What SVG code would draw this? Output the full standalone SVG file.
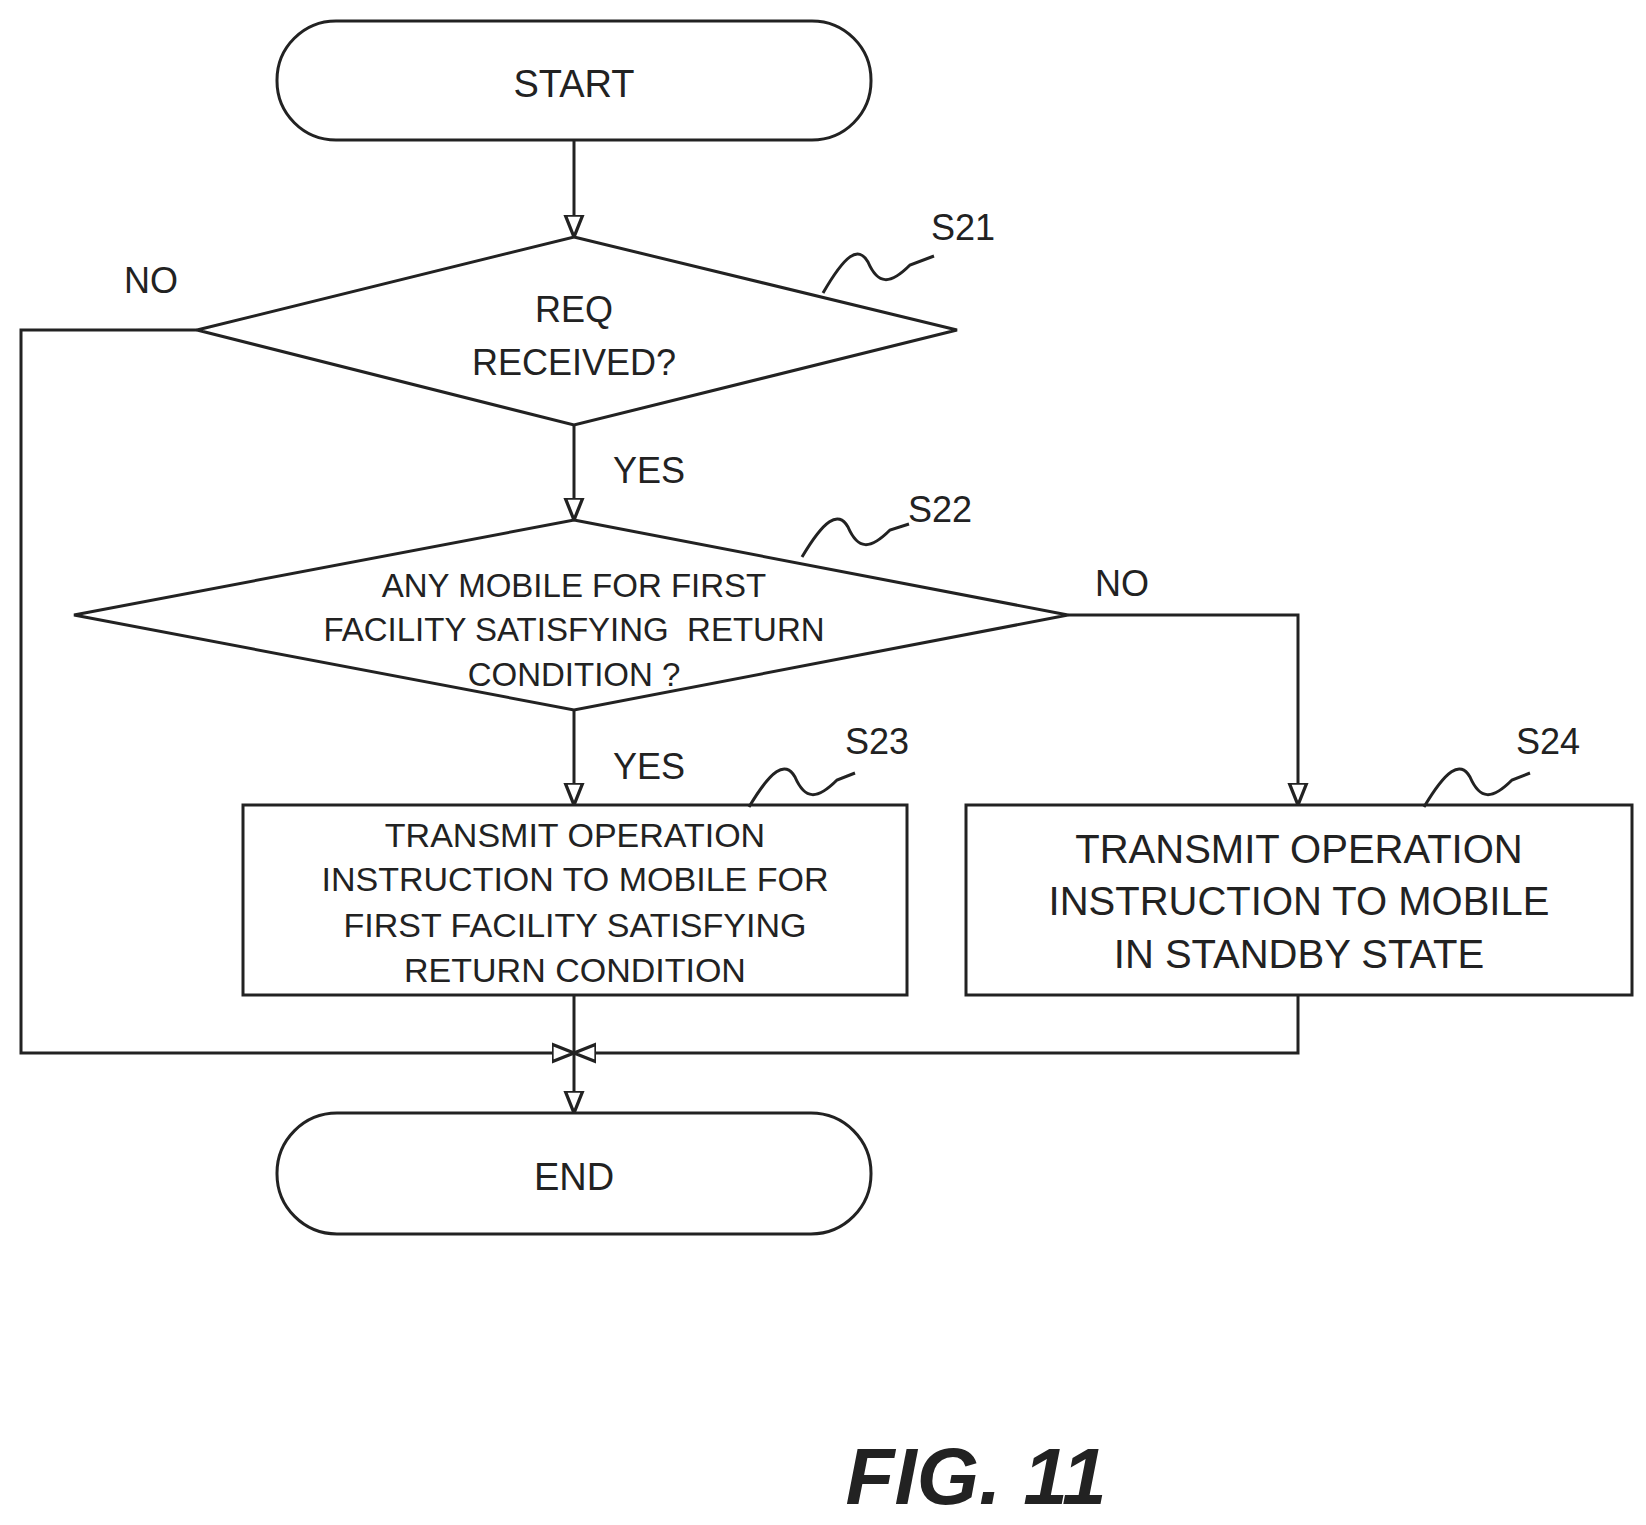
<svg xmlns="http://www.w3.org/2000/svg" width="1646" height="1525" viewBox="0 0 1646 1525">
<defs>
<marker id="ar" viewBox="0 0 10 10" refX="10" refY="5" markerWidth="22" markerHeight="22" markerUnits="userSpaceOnUse" orient="auto"><path d="M0,1 L10,5 L0,9 z" fill="#fff" stroke="#222" stroke-width="1.5"/></marker>
</defs>
<style>
.s{fill:#fff;stroke:#222;stroke-width:3}
.l{fill:none;stroke:#222;stroke-width:3}
.t{font-family:"Liberation Sans",Arial,sans-serif;fill:#222;text-anchor:middle}
</style>
<rect width="1646" height="1525" fill="#fff"/>
<g id="connectors">
<path class="l" d="M574,140 V237" marker-end="url(#ar)"/>
<path class="l" d="M574,425 V520" marker-end="url(#ar)"/>
<path class="l" d="M574,710 V805" marker-end="url(#ar)"/>
<path class="l" d="M1068,615 H1298 V805" marker-end="url(#ar)"/>
<path class="l" d="M197,330 H21 V1053 H574" marker-end="url(#ar)"/>
<path class="l" d="M1298,995 V1053 H574" marker-end="url(#ar)"/>
<path class="l" d="M574,995 V1113" marker-end="url(#ar)"/>
<text class="t" x="151" y="293" font-size="36">NO</text>
<text class="t" x="649" y="483" font-size="36">YES</text>
<text class="t" x="1122" y="596" font-size="36">NO</text>
<text class="t" x="649" y="779" font-size="36">YES</text>
</g>
<g id="start"><rect class="s" x="277" y="21" width="594" height="119" rx="59"/><text class="t" x="574" y="97" font-size="38">START</text></g>
<g id="s21"><polygon class="s" points="574,237 957,330 574,425 197,330"/>
<text class="t" x="574" y="322" font-size="36">REQ</text><text class="t" x="574" y="375" font-size="36">RECEIVED?</text>
<path class="l" d="M823,293 C845,255 858,245 868,262 C878,285 890,285 910,265 L934,256"/>
<text class="t" x="963" y="240" font-size="36">S21</text></g>
<g id="s22"><polygon class="s" points="574,520 1068,615 574,710 74,615"/>
<text class="t" x="574" y="597" font-size="33">ANY MOBILE FOR FIRST</text>
<text class="t" x="574" y="641" font-size="33" xml:space="preserve">FACILITY SATISFYING  RETURN</text>
<text class="t" x="574" y="686" font-size="33">CONDITION ?</text>
<path class="l" d="M802,557 C824,520 838,510 848,527 C858,550 870,550 890,530 L909,524"/>
<text class="t" x="940" y="522" font-size="36">S22</text></g>
<g id="s23"><rect class="s" x="243" y="805" width="664" height="190"/>
<text class="t" x="575" y="847" font-size="34">TRANSMIT OPERATION</text>
<text class="t" x="575" y="891" font-size="34">INSTRUCTION TO MOBILE FOR</text>
<text class="t" x="575" y="937" font-size="34">FIRST FACILITY SATISFYING</text>
<text class="t" x="575" y="982" font-size="34">RETURN CONDITION</text>
<path class="l" d="M749,807 C771,770 785,760 795,777 C805,800 817,800 837,780 L855,773"/>
<text class="t" x="877" y="754" font-size="36">S23</text></g>
<g id="s24"><rect class="s" x="966" y="805" width="666" height="190"/>
<text class="t" x="1299" y="863" font-size="40">TRANSMIT OPERATION</text>
<text class="t" x="1299" y="915" font-size="40">INSTRUCTION TO MOBILE</text>
<text class="t" x="1299" y="968" font-size="40">IN STANDBY STATE</text>
<path class="l" d="M1424,807 C1446,770 1460,760 1470,777 C1480,800 1492,800 1512,780 L1530,773"/>
<text class="t" x="1548" y="754" font-size="36">S24</text></g>
<g id="end"><rect class="s" x="277" y="1113" width="594" height="121" rx="60"/><text class="t" x="574" y="1190" font-size="38">END</text></g>
<text class="t" x="976" y="1504" font-size="80" font-weight="bold" font-style="italic">FIG. 11</text>
</svg>
